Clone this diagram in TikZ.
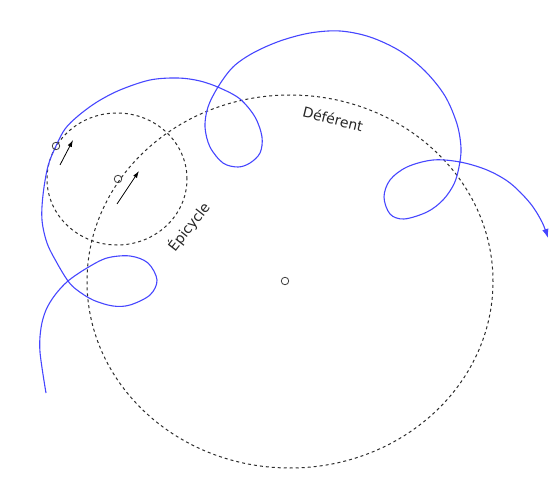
\documentclass[tikz,border=0pt]{standalone}
\usepackage{fontspec}
\setmainfont{DejaVu Sans}
\usetikzlibrary{arrows.meta}
\definecolor{pathblue}{RGB}{70,70,255}
\definecolor{dashgray}{RGB}{45,45,45}
\tikzset{
  orbit/.style={dashgray, line width=1pt, dash pattern=on 3pt off 3pt},
  planet/.style={pathblue, line width=1.1pt},
  marker/.style={circle, draw=black!75, line width=0.8pt, minimum size=7.5pt, inner sep=0pt},
  motion/.style={black, line width=0.8pt, -{Latex[length=7pt,width=4.5pt]}},
  lbl/.style={font=\fontsize{14}{16}\selectfont, text=black!85, inner sep=0pt}
}
\begin{document}
\begin{tikzpicture}[x=1pt,y=-1pt]
\useasboundingbox (0,0) rectangle (560,500);
% deferent and epicycle
\draw[orbit] (290,281.5) ellipse [x radius=203pt, y radius=186.5pt];
\draw[orbit] (117,179) ellipse [x radius=70pt, y radius=66pt];
% planet path
\draw[planet, -{Latex[length=9pt,width=6.5pt]}] plot[smooth, tension=0.55] coordinates {
 (46,393) (40,352) (41,328) (46,310) (55,295) (68,281) (87,268) (107,258) (130,256)
 (148,263) (157,280) (150,295) (130,305) (113,306) (93,300) (77,290) (68,281)
 (57,263) (47,243) (42,220) (43,195) (48,166) (56,146) (65,129) (78,116) (97,102)
 (120,90) (150,80) (178,78) (200,81) (220,88) (240,99) (255,117) (262,137)
 (260,153) (250,163) (238,167) (223,163) (210,147) (205,127) (208,107) (218,87)
 (233,67) (253,53) (280,41) (310,33) (340,31) (370,37) (400,51) (425,71)
 (445,96) (457,124) (461,148) (459,167) (454,184) (443,200) (427,212) (404,219)
 (390,214) (384,197) (390,180) (407,167) (433,160) (460,162) (487,170) (510,183)
 (530,203) (542,222) (548,238)};
% markers
\node[marker] (earth) at (285,281) {};
\node[marker] (epic) at (118,179) {};
\node[marker] (planetpos) at (56,146) {};
% motion arrows
\coordinate (m1s) at (60,165);
\coordinate (m1e) at (73,140);
\coordinate (m2s) at (117,204);
\coordinate (m2e) at (139,171);
\draw[motion] (m1s) -- (m1e);
\draw[motion] (m2s) -- (m2e);
% labels
\node[lbl, rotate=-14] (defl) at (333,119) {Déférent};
\node[lbl, rotate=52] (epil) at (189,227) {Épicycle};
\end{tikzpicture}
\end{document}
